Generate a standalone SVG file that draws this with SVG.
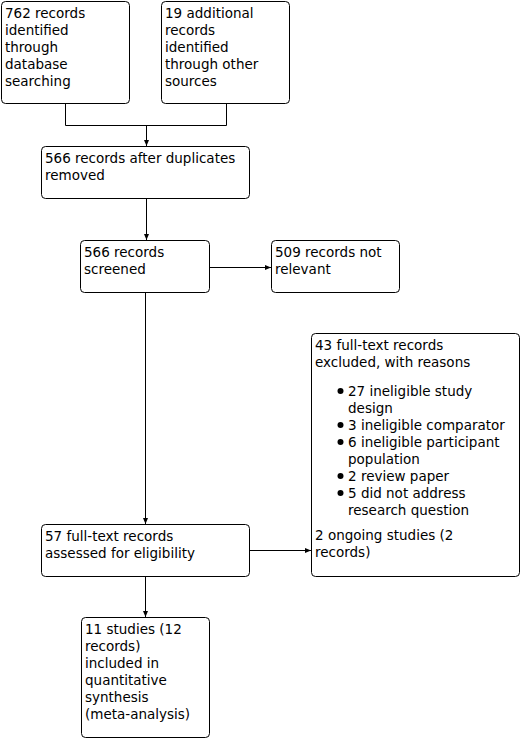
<svg xmlns="http://www.w3.org/2000/svg" width="521" height="739" viewBox="0 0 521 739">
<defs>
<marker id="arr" markerWidth="6" markerHeight="6" refX="6" refY="3" orient="auto" markerUnits="userSpaceOnUse">
<path d="M0,0.5 L6,3 L0,5.5 Z" fill="#000"/>
</marker>
<style>
.box{fill:#fff;stroke:#000;stroke-width:1}
.t{font-family:"DejaVu Sans",Verdana,sans-serif;font-size:13.5px;fill:#000}
.c{fill:none;stroke:#000;stroke-width:1}
.dot{fill:#000}
</style>
</defs>
<rect width="521" height="739" fill="#fff"/>
<g id="connectors">
<path class="c" d="M65.5,103.5 V125.5 H226.5 V103.5"/>
<path class="c" d="M146.5,125.5 V146" marker-end="url(#arr)"/>
<path class="c" d="M146.5,198.5 V240" marker-end="url(#arr)"/>
<path class="c" d="M209.5,267.5 H271" marker-end="url(#arr)"/>
<path class="c" d="M145.5,292.5 V524" marker-end="url(#arr)"/>
<path class="c" d="M249.5,550.5 H311" marker-end="url(#arr)"/>
<path class="c" d="M145.5,576.5 V617" marker-end="url(#arr)"/>
</g>
<g id="n1">
<rect class="box" x="1.5" y="1.5" width="128" height="102" rx="4"/>
<text class="t" x="5" y="18">762 records</text>
<text class="t" x="5" y="35">identified</text>
<text class="t" x="5" y="52">through</text>
<text class="t" x="5" y="69">database</text>
<text class="t" x="5" y="86">searching</text>
</g>
<g id="n2">
<rect class="box" x="161.5" y="1.5" width="128" height="102" rx="4"/>
<text class="t" x="165" y="18">19 additional</text>
<text class="t" x="165" y="35">records</text>
<text class="t" x="165" y="52">identified</text>
<text class="t" x="165" y="69">through other</text>
<text class="t" x="165" y="86">sources</text>
</g>
<g id="n3">
<rect class="box" x="41.5" y="146.5" width="208" height="52" rx="4"/>
<text class="t" x="45" y="163">566 records after duplicates</text>
<text class="t" x="45" y="180">removed</text>
</g>
<g id="n4">
<rect class="box" x="80.5" y="240.5" width="129" height="52" rx="4"/>
<text class="t" x="84" y="257">566 records</text>
<text class="t" x="84" y="274">screened</text>
</g>
<g id="n5">
<rect class="box" x="271.5" y="240.5" width="128" height="52" rx="4"/>
<text class="t" x="275" y="257">509 records not</text>
<text class="t" x="275" y="274">relevant</text>
</g>
<g id="n6">
<rect class="box" x="311.5" y="333.5" width="208" height="243" rx="4"/>
<text class="t" x="315" y="350">43 full-text records</text>
<text class="t" x="315" y="367">excluded, with reasons</text>
<circle class="dot" cx="340.5" cy="391" r="3"/>
<text class="t" x="348" y="396">27 ineligible study</text>
<text class="t" x="348" y="413">design</text>
<circle class="dot" cx="340.5" cy="425" r="3"/>
<text class="t" x="348" y="430">3 ineligible comparator</text>
<circle class="dot" cx="340.5" cy="442" r="3"/>
<text class="t" x="348" y="447">6 ineligible participant</text>
<text class="t" x="348" y="464">population</text>
<circle class="dot" cx="340.5" cy="476" r="3"/>
<text class="t" x="348" y="481">2 review paper</text>
<circle class="dot" cx="340.5" cy="493" r="3"/>
<text class="t" x="348" y="498">5 did not address</text>
<text class="t" x="348" y="515">research question</text>
<text class="t" x="315" y="540">2 ongoing studies (2</text>
<text class="t" x="315" y="557">records)</text>
</g>
<g id="n7">
<rect class="box" x="41.5" y="524.5" width="208" height="52" rx="4"/>
<text class="t" x="45" y="541">57 full-text records</text>
<text class="t" x="45" y="558">assessed for eligibility</text>
</g>
<g id="n8">
<rect class="box" x="81.5" y="617.5" width="128" height="120" rx="4"/>
<text class="t" x="85" y="634">11 studies (12</text>
<text class="t" x="85" y="651">records)</text>
<text class="t" x="85" y="668">included in</text>
<text class="t" x="85" y="685">quantitative</text>
<text class="t" x="85" y="702">synthesis</text>
<text class="t" x="85" y="719">(meta-analysis)</text>
</g>
</svg>
